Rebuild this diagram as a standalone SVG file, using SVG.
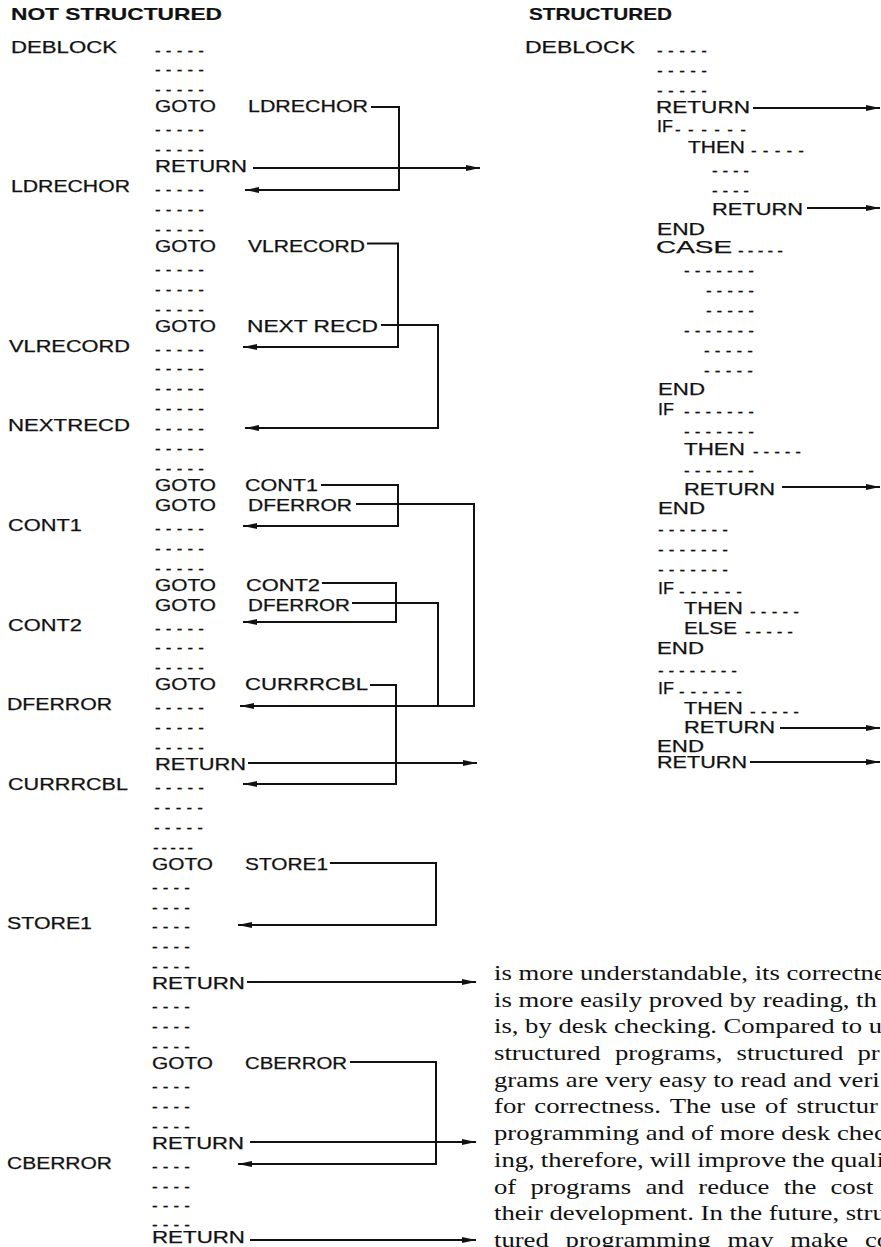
<svg xmlns="http://www.w3.org/2000/svg" width="881" height="1247" viewBox="0 0 881 1247">
<style>
.t{font-family:"Liberation Sans",Arial,sans-serif;font-size:17px;fill:#111;stroke:#111;stroke-width:0.25}
.h{font-weight:bold;stroke-width:0.2}
.p{font-family:"Liberation Serif","Times New Roman",serif;font-size:21px;fill:#111}
.c{fill:none;stroke:#111;stroke-width:2}
.a{marker-end:url(#ah)}
</style>
<defs>
<marker id="ah" markerUnits="userSpaceOnUse" markerWidth="16" markerHeight="8" refX="14" refY="3.5" orient="auto"><path d="M0,0.5 L14,3.5 L0,6.5 z" fill="#111"/></marker>
</defs>
<rect width="881" height="1247" fill="#fff"/>

<g id="left-header"><text class="t h" x="11" y="20" textLength="211" lengthAdjust="spacingAndGlyphs">NOT STRUCTURED</text></g>

<g id="left-code">
<g id="deblock"><text class="t" x="11" y="52.5" textLength="106" lengthAdjust="spacingAndGlyphs">DEBLOCK</text><text class="t" x="155" y="55.5" textLength="49">-----</text></g>
<text class="t" x="155" y="75.4" textLength="49">-----</text>
<text class="t" x="155" y="95.4" textLength="49">-----</text>
<g id="goto-ldrechor"><text class="t" x="155" y="112.3" textLength="61" lengthAdjust="spacingAndGlyphs">GOTO</text><text class="t" x="248" y="112.3" textLength="120" lengthAdjust="spacingAndGlyphs">LDRECHOR</text></g>
<text class="t" x="155" y="135.2" textLength="49">-----</text>
<text class="t" x="155" y="155.2" textLength="49">-----</text>
<g id="return1"><text class="t" x="155" y="172.1" textLength="92" lengthAdjust="spacingAndGlyphs">RETURN</text></g>
<g id="ldrechor"><text class="t" x="11" y="192" textLength="119" lengthAdjust="spacingAndGlyphs">LDRECHOR</text><text class="t" x="155" y="195" textLength="49">-----</text></g>
<text class="t" x="155" y="214.9" textLength="49">-----</text>
<text class="t" x="155" y="234.9" textLength="49">-----</text>
<g id="goto-vlrecord"><text class="t" x="155" y="251.8" textLength="61" lengthAdjust="spacingAndGlyphs">GOTO</text><text class="t" x="248" y="251.8" textLength="117" lengthAdjust="spacingAndGlyphs">VLRECORD</text></g>
<text class="t" x="155" y="274.7" textLength="49">-----</text>
<text class="t" x="155" y="294.7" textLength="49">-----</text>
<text class="t" x="155" y="314.6" textLength="49">-----</text>
<g id="goto-nextrecd"><text class="t" x="155" y="331.5" textLength="61" lengthAdjust="spacingAndGlyphs">GOTO</text><text class="t" x="247" y="331.5" textLength="131" lengthAdjust="spacingAndGlyphs">NEXT RECD</text></g>
<g id="vlrecord"><text class="t" x="9" y="351.5" textLength="121" lengthAdjust="spacingAndGlyphs">VLRECORD</text><text class="t" x="155" y="354.5" textLength="49">-----</text></g>
<text class="t" x="155" y="374.4" textLength="49">-----</text>
<text class="t" x="155" y="394.3" textLength="49">-----</text>
<text class="t" x="155" y="414.2" textLength="49">-----</text>
<g id="nextrecd"><text class="t" x="8" y="431.2" textLength="122" lengthAdjust="spacingAndGlyphs">NEXTRECD</text><text class="t" x="155" y="434.2" textLength="49">-----</text></g>
<text class="t" x="155" y="454.1" textLength="49">-----</text>
<text class="t" x="155" y="474" textLength="49">-----</text>
<g id="goto-cont1"><text class="t" x="155" y="491" textLength="61" lengthAdjust="spacingAndGlyphs">GOTO</text><text class="t" x="245" y="491" textLength="73" lengthAdjust="spacingAndGlyphs">CONT1</text></g>
<g id="goto-dferror1"><text class="t" x="155" y="510.9" textLength="61" lengthAdjust="spacingAndGlyphs">GOTO</text><text class="t" x="248" y="510.9" textLength="104" lengthAdjust="spacingAndGlyphs">DFERROR</text></g>
<g id="cont1"><text class="t" x="8" y="530.8" textLength="74" lengthAdjust="spacingAndGlyphs">CONT1</text><text class="t" x="155" y="533.8" textLength="49">-----</text></g>
<text class="t" x="155" y="553.8" textLength="49">-----</text>
<text class="t" x="155" y="573.7" textLength="49">-----</text>
<g id="goto-cont2"><text class="t" x="155" y="590.6" textLength="61" lengthAdjust="spacingAndGlyphs">GOTO</text><text class="t" x="246" y="590.6" textLength="74" lengthAdjust="spacingAndGlyphs">CONT2</text></g>
<g id="goto-dferror2"><text class="t" x="155" y="610.5" textLength="61" lengthAdjust="spacingAndGlyphs">GOTO</text><text class="t" x="248" y="610.5" textLength="102" lengthAdjust="spacingAndGlyphs">DFERROR</text></g>
<g id="cont2"><text class="t" x="8" y="630.5" textLength="74" lengthAdjust="spacingAndGlyphs">CONT2</text><text class="t" x="155" y="633.5" textLength="49">-----</text></g>
<text class="t" x="155" y="653.4" textLength="49">-----</text>
<text class="t" x="155" y="673.3" textLength="49">-----</text>
<g id="goto-currrcbl"><text class="t" x="155" y="690.3" textLength="61" lengthAdjust="spacingAndGlyphs">GOTO</text><text class="t" x="245" y="690.3" textLength="123" lengthAdjust="spacingAndGlyphs">CURRRCBL</text></g>
<g id="dferror"><text class="t" x="7" y="710.2" textLength="105" lengthAdjust="spacingAndGlyphs">DFERROR</text><text class="t" x="155" y="713.2" textLength="49">-----</text></g>
<text class="t" x="155" y="733.1" textLength="49">-----</text>
<text class="t" x="155" y="753" textLength="49">-----</text>
<g id="return2"><text class="t" x="155" y="770" textLength="91" lengthAdjust="spacingAndGlyphs">RETURN</text></g>
<g id="currrcbl"><text class="t" x="8" y="789.9" textLength="120" lengthAdjust="spacingAndGlyphs">CURRRCBL</text><text class="t" x="155" y="792.9" textLength="49">-----</text></g>
<text class="t" x="154" y="812.8" textLength="49">-----</text>
<text class="t" x="154" y="832.8" textLength="49">-----</text>
<text class="t" x="153" y="852.7" textLength="40">-----</text>
<g id="goto-store1"><text class="t" x="152" y="869.6" textLength="61" lengthAdjust="spacingAndGlyphs">GOTO</text><text class="t" x="245" y="869.6" textLength="83" lengthAdjust="spacingAndGlyphs">STORE1</text></g>
<text class="t" x="152" y="892.6" textLength="38">----</text>
<text class="t" x="152" y="912.5" textLength="38">----</text>
<g id="store1"><text class="t" x="7" y="929.4" textLength="85" lengthAdjust="spacingAndGlyphs">STORE1</text><text class="t" x="152" y="932.4" textLength="38">----</text></g>
<text class="t" x="152" y="952.3" textLength="38">----</text>
<text class="t" x="152" y="972.3" textLength="38">----</text>
<g id="return3"><text class="t" x="152" y="989.2" textLength="93" lengthAdjust="spacingAndGlyphs">RETURN</text></g>
<text class="t" x="152" y="1012.1" textLength="38">----</text>
<text class="t" x="152" y="1032.1" textLength="38">----</text>
<text class="t" x="152" y="1052" textLength="38">----</text>
<g id="goto-cberror"><text class="t" x="152" y="1068.9" textLength="61" lengthAdjust="spacingAndGlyphs">GOTO</text><text class="t" x="245" y="1068.9" textLength="102" lengthAdjust="spacingAndGlyphs">CBERROR</text></g>
<text class="t" x="152" y="1091.9" textLength="38">----</text>
<text class="t" x="152" y="1111.8" textLength="38">----</text>
<text class="t" x="152" y="1131.7" textLength="38">----</text>
<g id="return4"><text class="t" x="152" y="1148.6" textLength="92" lengthAdjust="spacingAndGlyphs">RETURN</text></g>
<g id="cberror"><text class="t" x="7" y="1168.6" textLength="105" lengthAdjust="spacingAndGlyphs">CBERROR</text><text class="t" x="152" y="1171.6" textLength="38">----</text></g>
<text class="t" x="152" y="1191.5" textLength="38">----</text>
<text class="t" x="152" y="1211.4" textLength="38">----</text>
<text class="t" x="152" y="1229.5" textLength="38">----</text>
<g id="return5"><text class="t" x="152" y="1243" textLength="93" lengthAdjust="spacingAndGlyphs">RETURN</text></g>
</g>

<g id="right-header"><text class="t h" x="529" y="20" textLength="143" lengthAdjust="spacingAndGlyphs">STRUCTURED</text></g>

<g id="right-code">
<g id="s-deblock"><text class="t" x="525" y="53" textLength="110" lengthAdjust="spacingAndGlyphs">DEBLOCK</text><text class="t" x="657" y="55.6" textLength="50">-----</text></g>
<text class="t" x="657" y="75.6" textLength="50">-----</text>
<text class="t" x="657" y="95.6" textLength="50">-----</text>
<g id="s-return1"><text class="t" x="656" y="113" textLength="94" lengthAdjust="spacingAndGlyphs">RETURN</text></g>
<g id="s-if1"><text class="t" x="657" y="132" textLength="16" lengthAdjust="spacingAndGlyphs">IF</text><text class="t" x="675" y="134.6" textLength="71">------</text></g>
<g id="s-then1"><text class="t" x="688" y="153" textLength="57" lengthAdjust="spacingAndGlyphs">THEN</text><text class="t" x="751" y="155.6" textLength="53">-----</text></g>
<text class="t" x="712" y="175.6" textLength="37">----</text>
<text class="t" x="712" y="195.6" textLength="37">----</text>
<g id="s-return2"><text class="t" x="712" y="215" textLength="91" lengthAdjust="spacingAndGlyphs">RETURN</text></g>
<g id="s-end1"><text class="t" x="657" y="235" textLength="48" lengthAdjust="spacingAndGlyphs">END</text></g>
<g id="s-case"><text class="t" x="656" y="253" textLength="76" lengthAdjust="spacingAndGlyphs">CASE</text><text class="t" x="738" y="255.6" textLength="45">-----</text></g>
<text class="t" x="684" y="275.6" textLength="70">-------</text>
<text class="t" x="706" y="295.6" textLength="48">-----</text>
<text class="t" x="706" y="315.6" textLength="48">-----</text>
<text class="t" x="684" y="335.6" textLength="70">-------</text>
<text class="t" x="704" y="355.6" textLength="49">-----</text>
<text class="t" x="704" y="375.6" textLength="49">-----</text>
<g id="s-end2"><text class="t" x="658" y="395" textLength="47" lengthAdjust="spacingAndGlyphs">END</text></g>
<g id="s-if2"><text class="t" x="658" y="415" textLength="16" lengthAdjust="spacingAndGlyphs">IF</text><text class="t" x="684" y="416.6" textLength="70">-------</text></g>
<text class="t" x="684" y="436.6" textLength="70">-------</text>
<g id="s-then2"><text class="t" x="684" y="455" textLength="61" lengthAdjust="spacingAndGlyphs">THEN</text><text class="t" x="753" y="456.6" textLength="48">-----</text></g>
<text class="t" x="684" y="475.6" textLength="70">-------</text>
<g id="s-return3"><text class="t" x="684" y="495" textLength="91" lengthAdjust="spacingAndGlyphs">RETURN</text></g>
<g id="s-end3"><text class="t" x="658" y="514" textLength="47" lengthAdjust="spacingAndGlyphs">END</text></g>
<text class="t" x="658" y="534.6" textLength="70">-------</text>
<text class="t" x="658" y="554.6" textLength="70">-------</text>
<text class="t" x="658" y="574.6" textLength="70">-------</text>
<g id="s-if3"><text class="t" x="658" y="594" textLength="16" lengthAdjust="spacingAndGlyphs">IF</text><text class="t" x="679" y="596.6" textLength="63">------</text></g>
<g id="s-then3"><text class="t" x="684" y="614" textLength="59" lengthAdjust="spacingAndGlyphs">THEN</text><text class="t" x="750" y="616.6" textLength="49">-----</text></g>
<g id="s-else"><text class="t" x="684" y="634" textLength="53" lengthAdjust="spacingAndGlyphs">ELSE</text><text class="t" x="745" y="636.6" textLength="48">-----</text></g>
<g id="s-end4"><text class="t" x="657" y="654" textLength="47" lengthAdjust="spacingAndGlyphs">END</text></g>
<text class="t" x="658" y="675.6" textLength="79">--------</text>
<g id="s-if4"><text class="t" x="658" y="694" textLength="16" lengthAdjust="spacingAndGlyphs">IF</text><text class="t" x="679" y="696.6" textLength="63">------</text></g>
<g id="s-then4"><text class="t" x="684" y="714" textLength="59" lengthAdjust="spacingAndGlyphs">THEN</text><text class="t" x="750" y="716.6" textLength="49">-----</text></g>
<g id="s-return4"><text class="t" x="684" y="733" textLength="91" lengthAdjust="spacingAndGlyphs">RETURN</text></g>
<g id="s-end5"><text class="t" x="657" y="752" textLength="47" lengthAdjust="spacingAndGlyphs">END</text></g>
<g id="s-return5"><text class="t" x="657" y="768" textLength="90" lengthAdjust="spacingAndGlyphs">RETURN</text></g>
</g>

<g id="connectors">
<path class="c a" d="M371,107 H399 V190 H245"/>
<path class="c a" d="M253,168 H480"/>
<path class="c a" d="M367,243.5 H398 V347 H243"/>
<path class="c a" d="M381,325 H438 V428 H245"/>
<path class="c a" d="M321,485 H398 V526 H243"/>
<path class="c a" d="M356,504 H474 V706 H240"/>
<path class="c a" d="M322,583 H396 V622 H243"/>
<path class="c" d="M352,603 H438 V706"/>
<path class="c a" d="M370,685 H396 V784 H243"/>
<path class="c a" d="M248,763 H477"/>
<path class="c a" d="M330,863 H436 V925 H238"/>
<path class="c a" d="M247,982 H476"/>
<path class="c a" d="M350,1062 H436 V1164 H238"/>
<path class="c a" d="M250,1142 H476"/>
<path class="c a" d="M250,1240 H476"/>
<path class="c a" d="M753,108 H880"/>
<path class="c a" d="M807,208 H880"/>
<path class="c a" d="M782,487 H880"/>
<path class="c a" d="M780,728 H880"/>
<path class="c a" d="M750,762 H880"/>
</g>

<g id="paragraph" transform="translate(494,0) scale(1.27,1)">
<text class="p" x="0" y="980">is more understandable, its correctne</text>
<text class="p" x="0" y="1006.7">is more easily proved by reading, th</text>
<text class="p" x="0" y="1033.4">is, by desk checking. Compared to u</text>
<text class="p" x="0" y="1060.1" word-spacing="6">structured programs, structured pr</text>
<text class="p" x="0" y="1086.8">grams are very easy to read and veri</text>
<text class="p" x="0" y="1113.5" word-spacing="2">for correctness. The use of structur</text>
<text class="p" x="0" y="1140.2">programming and of more desk chec</text>
<text class="p" x="0" y="1166.9" word-spacing="-0.5">ing, therefore, will improve the quali</text>
<text class="p" x="0" y="1193.6" word-spacing="6">of programs and reduce the cost</text>
<text class="p" x="0" y="1220.3">their development. In the future, stru</text>
<text class="p" x="0" y="1247" word-spacing="8">tured programming may make co</text>
</g>
</svg>
